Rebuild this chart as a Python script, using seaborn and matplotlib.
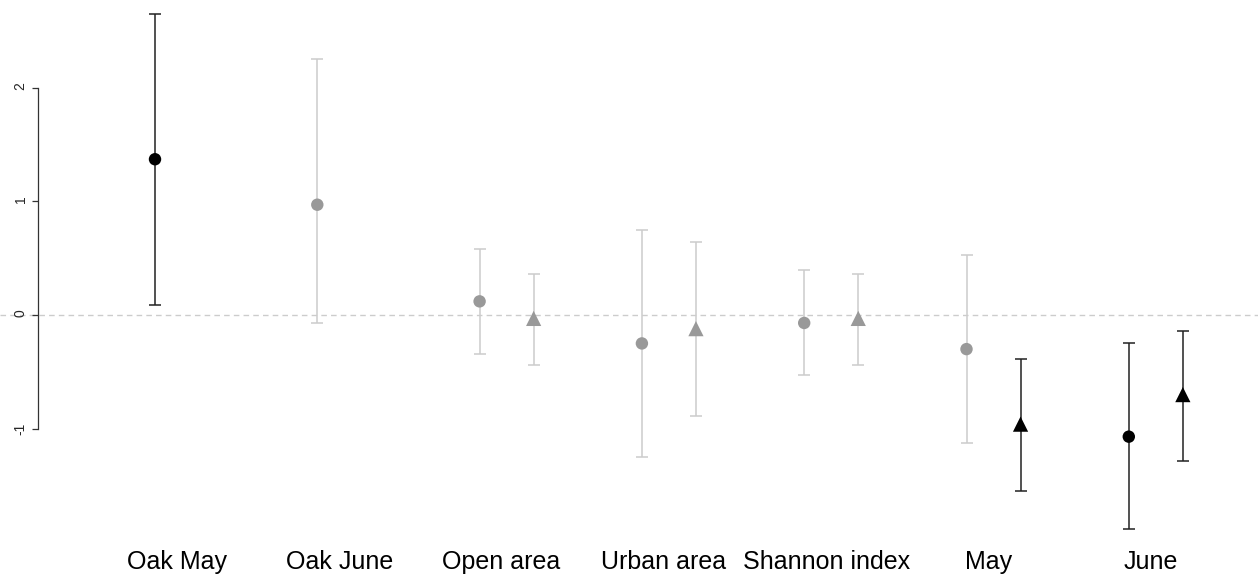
import numpy as np
import pandas as pd
import matplotlib
matplotlib.use("Agg")
import matplotlib.pyplot as plt
import seaborn as sns

# ---- data ----
categories = ["Oak May", "Oak June", "Open area", "Urban area", "Shannon index", "May", "June"]

circle_est = [1.37, 0.97, 0.12, -0.25, -0.07, -0.30, -1.07]
circle_lo  = [0.09, -0.07, -0.34, -1.25, -0.53, -1.13, -1.88]
circle_hi  = [2.65, 2.25, 0.58, 0.75, 0.40, 0.53, -0.25]
circle_sig = [True, False, False, False, False, False, True]

tri_est = [np.nan, np.nan, -0.03, -0.12, -0.03, -0.96, -0.70]
tri_lo  = [np.nan, np.nan, -0.44, -0.89, -0.44, -1.55, -1.28]
tri_hi  = [np.nan, np.nan, 0.36, 0.64, 0.36, -0.39, -0.14]
tri_sig = [False, False, False, False, False, True, True]

y_ticks = [-1, 0, 1, 2]

# ---- build table ----
rows = []
for i, c in enumerate(categories):
    rows.append(dict(cat=c, idx=i, series="circle", est=circle_est[i], lo=circle_lo[i],
                     hi=circle_hi[i], sig=circle_sig[i]))
    rows.append(dict(cat=c, idx=i, series="triangle", est=tri_est[i], lo=tri_lo[i],
                     hi=tri_hi[i], sig=tri_sig[i]))
df = pd.DataFrame(rows).dropna(subset=["est"])
offset = {"circle": 0.0, "triangle": 0.333}
df["x"] = df["idx"] + df["series"].map(offset)
df["kind"] = np.where(df["sig"], "sig", "ns")

sns.set_style("white")
plt.rcParams["font.family"] = ["Liberation Sans", "DejaVu Sans"]

fig = plt.figure(figsize=(12.58, 5.78), dpi=100)
ax = fig.add_axes([0, 38 / 578, 1, 540 / 578])

# zero reference line
ax.axhline(0, color="#cccccc", lw=1, ls=(0, (4, 3)), zorder=0)

bar_col = {"sig": "#222222", "ns": "#cccccc"}
pt_col = {"sig": "black", "ns": "#999999"}

for _, r in df.iterrows():
    ax.errorbar(r["x"], r["est"],
                yerr=[[r["est"] - r["lo"]], [r["hi"] - r["est"]]],
                fmt="none", ecolor=bar_col[r["kind"]], elinewidth=1.1,
                capsize=4, capthick=1.1, zorder=1)

sns.scatterplot(data=df, x="x", y="est", hue="kind", style="series",
                palette=pt_col, markers={"circle": "o", "triangle": "^"},
                size="series", sizes={"circle": 80, "triangle": 120},
                edgecolor="none", legend=False, ax=ax, zorder=3)

ax.set_xlim(-155 / 162.3, (1258 - 155) / 162.3)
ax.set_ylim(-(540 - 315) / 113.7, 315 / 113.7)

ax.set_xticks(np.arange(len(categories)) + 0.135)
ax.set_xticklabels(categories, fontsize=18, color="black")
ax.tick_params(axis="x", length=0, pad=7)

ax.set_yticks(y_ticks)
ax.set_yticklabels([str(t) for t in y_ticks], fontsize=10, color="black")
ax.tick_params(axis="y", left=True, length=4.5, width=0.9, pad=3, color="#333333",
               labelrotation=90)
for lbl in ax.get_yticklabels():
    lbl.set_verticalalignment("center")

for s in ["top", "right", "bottom"]:
    ax.spines[s].set_visible(False)
ax.spines["left"].set_position(("data", -0.72))
ax.spines["left"].set_bounds(-1, 2)
ax.spines["left"].set_color("#333333")
ax.spines["left"].set_linewidth(0.9)

ax.set_xlabel("")
ax.set_ylabel("")
ax.grid(False)

fig.savefig("out.png", dpi=100)
